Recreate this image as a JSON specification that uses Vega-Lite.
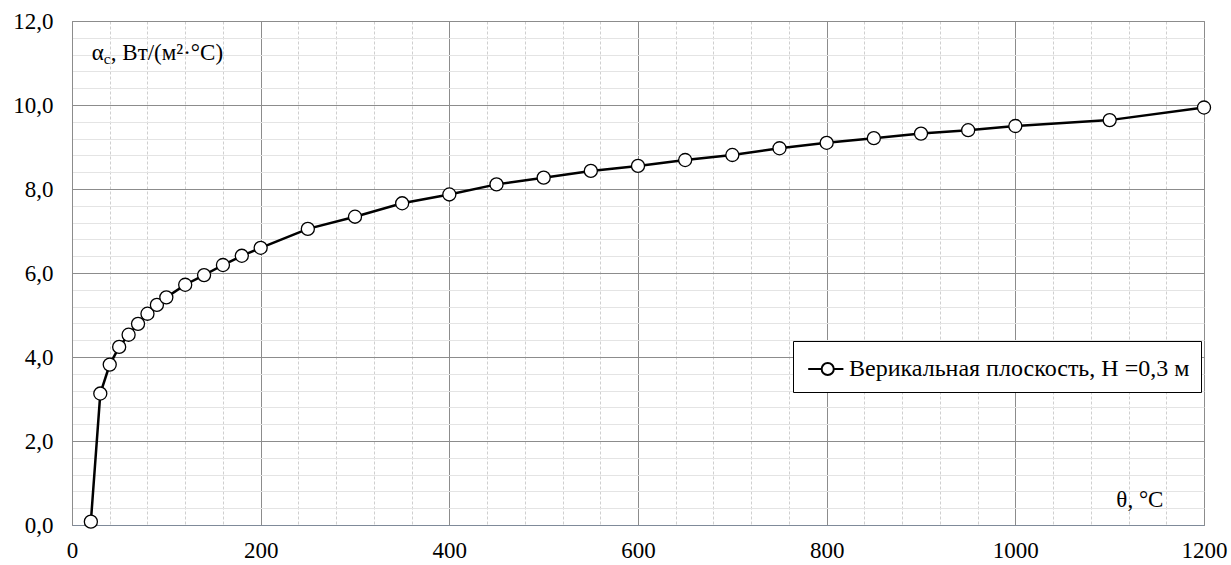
{
  "$schema": "https://vega.github.io/schema/vega-lite/v6.json",
  "autosize": "none",
  "width": 1132,
  "height": 504,
  "padding": {"left": 72, "top": 21, "right": 27, "bottom": 40},
  "background": "white",
  "config": {
    "view": {"stroke": "#8c8c8c", "strokeWidth": 1},
    "font": "Liberation Serif",
    "axis": {"labelFont": "Liberation Serif", "labelColor": "black", "titleFont": "Liberation Serif"},
    "legend": {"labelFont": "Liberation Serif", "titleFont": "Liberation Serif"}
  },
  "data": {
    "values": [
      {"t": 20, "a": 0.08, "s": "Верикальная плоскость, H =0,3 м"},
      {"t": 30, "a": 3.13, "s": "Верикальная плоскость, H =0,3 м"},
      {"t": 40, "a": 3.82, "s": "Верикальная плоскость, H =0,3 м"},
      {"t": 50, "a": 4.24, "s": "Верикальная плоскость, H =0,3 м"},
      {"t": 60, "a": 4.53, "s": "Верикальная плоскость, H =0,3 м"},
      {"t": 70, "a": 4.79, "s": "Верикальная плоскость, H =0,3 м"},
      {"t": 80, "a": 5.03, "s": "Верикальная плоскость, H =0,3 м"},
      {"t": 90, "a": 5.24, "s": "Верикальная плоскость, H =0,3 м"},
      {"t": 100, "a": 5.42, "s": "Верикальная плоскость, H =0,3 м"},
      {"t": 120, "a": 5.72, "s": "Верикальная плоскость, H =0,3 м"},
      {"t": 140, "a": 5.95, "s": "Верикальная плоскость, H =0,3 м"},
      {"t": 160, "a": 6.19, "s": "Верикальная плоскость, H =0,3 м"},
      {"t": 180, "a": 6.41, "s": "Верикальная плоскость, H =0,3 м"},
      {"t": 200, "a": 6.60, "s": "Верикальная плоскость, H =0,3 м"},
      {"t": 250, "a": 7.05, "s": "Верикальная плоскость, H =0,3 м"},
      {"t": 300, "a": 7.34, "s": "Верикальная плоскость, H =0,3 м"},
      {"t": 350, "a": 7.66, "s": "Верикальная плоскость, H =0,3 м"},
      {"t": 400, "a": 7.87, "s": "Верикальная плоскость, H =0,3 м"},
      {"t": 450, "a": 8.11, "s": "Верикальная плоскость, H =0,3 м"},
      {"t": 500, "a": 8.27, "s": "Верикальная плоскость, H =0,3 м"},
      {"t": 550, "a": 8.43, "s": "Верикальная плоскость, H =0,3 м"},
      {"t": 600, "a": 8.55, "s": "Верикальная плоскость, H =0,3 м"},
      {"t": 650, "a": 8.69, "s": "Верикальная плоскость, H =0,3 м"},
      {"t": 700, "a": 8.81, "s": "Верикальная плоскость, H =0,3 м"},
      {"t": 750, "a": 8.97, "s": "Верикальная плоскость, H =0,3 м"},
      {"t": 800, "a": 9.10, "s": "Верикальная плоскость, H =0,3 м"},
      {"t": 850, "a": 9.21, "s": "Верикальная плоскость, H =0,3 м"},
      {"t": 900, "a": 9.32, "s": "Верикальная плоскость, H =0,3 м"},
      {"t": 950, "a": 9.40, "s": "Верикальная плоскость, H =0,3 м"},
      {"t": 1000, "a": 9.50, "s": "Верикальная плоскость, H =0,3 м"},
      {"t": 1100, "a": 9.64, "s": "Верикальная плоскость, H =0,3 м"},
      {"t": 1200, "a": 9.94, "s": "Верикальная плоскость, H =0,3 м"}
    ]
  },
  "resolve": {"axis": {"x": "independent", "y": "independent"}},
  "layer": [
    {
      "mark": {"type": "line", "opacity": 0},
      "encoding": {
        "x": {"field": "t", "type": "quantitative", "scale": {"domain": [0, 1200], "nice": false},
          "axis": {"orient": "bottom", "values": [40, 80, 120, 160, 240, 280, 320, 360, 440, 480, 520, 560, 640, 680, 720, 760, 840, 880, 920, 960, 1040, 1080, 1120, 1160], "labels": false, "ticks": false, "domain": false, "title": null, "grid": true, "gridColor": "#cfcfcf", "gridDash": [3, 2], "gridWidth": 1}},
        "y": {"field": "a", "type": "quantitative", "scale": {"domain": [0, 12], "nice": false},
          "axis": {"orient": "left", "values": [0.4, 0.8, 1.2, 1.6, 2.4, 2.8, 3.2, 3.6, 4.4, 4.8, 5.2, 5.6, 6.4, 6.8, 7.2, 7.6, 8.4, 8.8, 9.2, 9.6, 10.4, 10.8, 11.2, 11.6], "labels": false, "ticks": false, "domain": false, "title": null, "grid": true, "gridColor": "#e4e4e4", "gridWidth": 1}}
      }
    },
    {
      "mark": {"type": "line", "color": "black", "strokeWidth": 2.5,
        "point": {"filled": false, "fill": "white", "stroke": "black", "strokeWidth": 1.3, "size": 170, "opacity": 1}},
      "encoding": {
        "x": {"field": "t", "type": "quantitative", "scale": {"domain": [0, 1200], "nice": false},
          "axis": {"orient": "bottom", "values": [0, 200, 400, 600, 800, 1000, 1200], "format": "d", "labelFontSize": 23, "labelPadding": 14, "labelFlush": false, "labelOverlap": false, "ticks": false, "domain": true, "domainColor": "#7f8a99", "title": null, "grid": true, "gridColor": "#8c8c8c", "gridWidth": 1}},
        "y": {"field": "a", "type": "quantitative", "scale": {"domain": [0, 12], "nice": false},
          "axis": {"orient": "left", "values": [0, 2, 4, 6, 8, 10, 12], "labelExpr": "replace(format(datum.value, '.1f'), '.', ',')", "labelFontSize": 23, "labelPadding": 19, "labelFlush": false, "labelOverlap": false, "ticks": false, "domain": true, "domainColor": "#8c8c8c", "title": null, "grid": true, "gridColor": "#8c8c8c", "gridWidth": 1}},
        "color": {"field": "s", "type": "nominal", "scale": {"range": ["black"]},
          "legend": {"title": null, "orient": "none", "legendX": 721, "legendY": 320, "strokeColor": "black", "fillColor": "white", "padding": 11,
            "symbolType": "M-0.8,0L0.04,0M0.8,0L1.4,0M0.8,0A0.38,0.38 0 1,1 0.04,0A0.38,0.38 0 1,1 0.8,0Z",
            "symbolSize": 1024, "symbolFillColor": "white", "symbolStrokeColor": "black", "symbolStrokeWidth": 2,
            "labelFont": "Liberation Serif", "labelFontSize": 24, "labelColor": "black", "labelOffset": 11, "labelLimit": 600}}
      }
    },
    {
      "data": {"values": [
        {"x": 21, "y": 11.24, "txt": "α", "k": "main"},
        {"x": 1157, "y": 0.6, "txt": "θ, °C", "k": "theta"}
      ]},
      "layer": [
        {
          "transform": [{"filter": "datum.k == 'main'"}],
          "mark": {"type": "text", "align": "left", "baseline": "middle", "font": "Liberation Serif", "fontSize": 23, "color": "black"},
          "encoding": {"x": {"field": "x", "type": "quantitative", "axis": null}, "y": {"field": "y", "type": "quantitative", "axis": null}, "text": {"field": "txt"}}
        },
        {
          "transform": [{"filter": "datum.k == 'main'"}],
          "mark": {"type": "text", "align": "left", "baseline": "middle", "font": "Liberation Serif", "fontSize": 15, "color": "black", "dx": 12, "dy": 6},
          "encoding": {"x": {"field": "x", "type": "quantitative", "axis": null}, "y": {"field": "y", "type": "quantitative", "axis": null}, "text": {"value": "c"}}
        },
        {
          "transform": [{"filter": "datum.k == 'main'"}],
          "mark": {"type": "text", "align": "left", "baseline": "middle", "font": "Liberation Serif", "fontSize": 23, "color": "black", "dx": 19},
          "encoding": {"x": {"field": "x", "type": "quantitative", "axis": null}, "y": {"field": "y", "type": "quantitative", "axis": null}, "text": {"value": ", Вт/(м²·°C)"}}
        },
        {
          "transform": [{"filter": "datum.k == 'theta'"}],
          "mark": {"type": "text", "align": "right", "baseline": "middle", "font": "Liberation Serif", "fontSize": 23, "color": "black"},
          "encoding": {"x": {"field": "x", "type": "quantitative", "axis": null}, "y": {"field": "y", "type": "quantitative", "axis": null}, "text": {"field": "txt"}}
        }
      ],
      "encoding": {}
    }
  ]
}
